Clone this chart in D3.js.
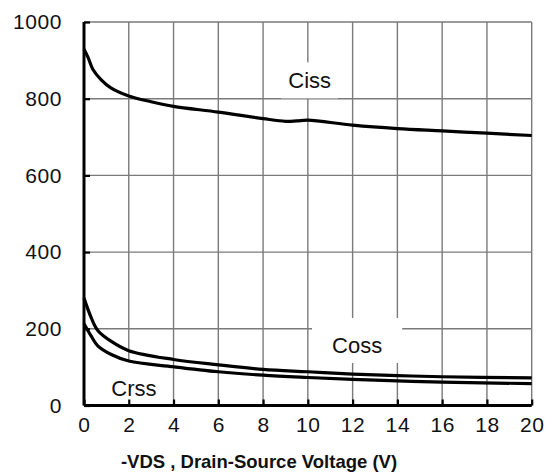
<!DOCTYPE html>
<html lang="en">
<head>
<meta charset="UTF-8">
<title>Capacitance vs VDS</title>
<script src="https://d3js.org/d3.v7.min.js"></script>
<style>
  body { margin: 0; background: #fff; }
  text { font-family: "Liberation Sans", Arial, sans-serif; fill: #111; }
</style>
</head>
<body>
<div id="chart"></div>
<script>
// values (V, pF)
var cissV = [0, 0.18, 0.4, 0.77, 1.2, 2, 3, 4, 6, 8, 9, 9.5, 10, 12, 14, 16, 18, 20];
var cissC = [929, 908, 876, 849, 828, 807, 792, 780, 765, 748, 741, 742, 744, 731, 722, 716, 710, 704];

var cossV = [0, 0.33, 0.625, 1.22, 2, 4, 6, 8, 10, 12, 14, 16, 20];
var cossC = [280, 228, 195, 167, 143, 120, 106, 94, 88, 82, 78, 75, 72];

var crssV = [0, 0.33, 0.625, 1.22, 2, 4, 6, 8, 10, 12, 14, 16, 20];
var crssC = [213, 180, 155, 133, 116, 101, 88, 79, 73, 68, 64, 61, 57];

var xTicks = [0, 2, 4, 6, 8, 10, 12, 14, 16, 18, 20];
var yTicks = [0, 200, 400, 600, 800, 1000];

var labelNames = ["Ciss", "Coss", "Crss"];
var labelV = [10.08, 12.2, 2.23];
var labelC = [827, 137, 25];

var xTitle = "-VDS , Drain-Source Voltage (V)";

var W = 555, H = 472;
var x = d3.scaleLinear().domain([0, 20]).range([84, 531.7]);
var y = d3.scaleLinear().domain([0, 1000]).range([405.5, 22]);

var svg = d3.select('#chart').append('svg')
    .attr('width', W).attr('height', H);

// grid
var grid = svg.append('g').attr('stroke', '#7a7a7a').attr('stroke-width', 1.4);
grid.selectAll('line.v').data(xTicks.slice(1)).enter().append('line')
    .attr('x1', function(d){ return x(d); }).attr('x2', function(d){ return x(d); })
    .attr('y1', y(1000)).attr('y2', y(0));
grid.selectAll('line.h').data(yTicks.slice(1)).enter().append('line')
    .attr('x1', x(0)).attr('x2', x(20))
    .attr('y1', function(d){ return y(d); }).attr('y2', function(d){ return y(d); });

// label boxes (white background knocks out the grid)
var pads = [[7, 10, 9], [20, 19, 9], [10, 18, 7]];
var labels = svg.append('g');
labelNames.forEach(function(name, i){
  var t = labels.append('text')
      .attr('x', x(labelV[i])).attr('y', y(labelC[i]))
      .attr('text-anchor', 'middle')
      .attr('font-size', 22)
      .text(name);
  var b = t.node().getBBox();
  var p = pads[i];
  labels.insert('rect', 'text')
      .attr('x', b.x - p[0]).attr('width', b.width + 2 * p[0])
      .attr('y', b.y + 4 - p[1]).attr('height', b.height - 8 + p[1] + p[2])
      .attr('fill', '#fff');
});

// curves
var line = d3.line()
    .x(function(d){ return x(d[0]); })
    .y(function(d){ return y(d[1]); })
    .curve(d3.curveCatmullRom.alpha(0.5));

[[cissV, cissC], [cossV, cossC], [crssV, crssC]].forEach(function(s){
  svg.append('path')
      .datum(d3.zip(s[0], s[1]))
      .attr('d', line)
      .attr('fill', 'none')
      .attr('stroke', '#000')
      .attr('stroke-width', 3.2)
      .attr('stroke-linejoin', 'round');
});

// axes
var xAxis = d3.axisBottom(x).tickValues(xTicks).tickSize(-6).tickPadding(12);
var yAxis = d3.axisLeft(y).tickValues(yTicks).tickFormat(d3.format('d')).tickSize(-6).tickPadding(22);

var gx = svg.append('g').attr('transform', 'translate(0,' + y(0) + ')').call(xAxis);
var gy = svg.append('g').attr('transform', 'translate(' + x(0) + ',0)').call(yAxis);

[gx, gy].forEach(function(g){
  g.select('.domain').attr('stroke', '#000').attr('stroke-width', 3);
  g.selectAll('.tick line').attr('stroke', '#000').attr('stroke-width', 2.2);
  g.selectAll('.tick text')
      .attr('font-family', '"Liberation Sans", Arial, sans-serif')
      .attr('font-size', 21)
      .attr('letter-spacing', 0.6)
      .attr('fill', '#111');
});
gx.select('.domain').attr('d', 'M' + x(0) + ',0H' + x(20));
gy.select('.domain').attr('d', 'M0,' + y(0) + 'V' + y(1000));

svg.append('text')
    .attr('x', 259).attr('y', 468)
    .attr('text-anchor', 'middle')
    .attr('font-size', 18.5)
    .attr('font-weight', 'bold')
    .text(xTitle);
</script>
</body>
</html>
